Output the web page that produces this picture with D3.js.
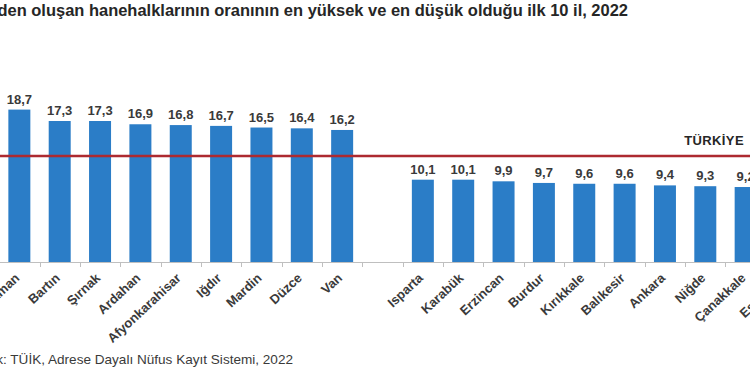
<!DOCTYPE html>
<html>
<head>
<meta charset="utf-8">
<script src="https://cdn.jsdelivr.net/npm/d3@7"></script>
<style>
  body { margin: 0; background: #fff; }
  svg { display: block; font-family: "Liberation Sans", Arial, sans-serif; }
</style>
</head>
<body>
<svg id="Vis" width="750" height="380"></svg>
<script>
/*
* DATA
*/

// the picture is a crop of a wider chart, so the first and last provinces sit outside it
const highNames = ["Adıyaman", "Bartın", "Şırnak", "Ardahan", "Afyonkarahisar", "Iğdır", "Mardin", "Düzce", "Van"];
const highValues = [18.7, 17.3, 17.3, 16.9, 16.8, 16.7, 16.5, 16.4, 16.2];

const lowNames = ["Isparta", "Karabük", "Erzincan", "Burdur", "Kırıkkale", "Balıkesir", "Ankara", "Niğde", "Çanakkale", "Eskişehir"];
const lowValues = [10.1, 10.1, 9.9, 9.7, 9.6, 9.6, 9.4, 9.3, 9.2, 9.1];

const turkiyeValue = 13.0;

const titleText = "Geniş aileden oluşan hanehalklarının oranının en yüksek ve en düşük olduğu ilk 10 il, 2022";
const sourceText = "Kaynak: TÜİK, Adrese Dayalı Nüfus Kayıt Sistemi, 2022";

/*
* SETUP
*/

const svg = d3.select("svg#Vis");

const bars = highNames.map((n, i) => ({ name: n, value: highValues[i] }))
  .concat(lowNames.map((n, i) => ({ name: n, value: lowValues[i] })));

// slot list: one hidden province on the left, a blank slot between the groups
const slots = ["_lead"].concat(highNames, ["_gap"], lowNames);

const step = 40.35;
const x = d3.scaleBand()
  .domain(slots)
  .range([-21 - step / 2, -21 - step / 2 + step * slots.length])
  .paddingInner(0.455)
  .paddingOuter(0.455 / 2);

const baseY = 262;
const y = d3.scaleLinear().domain([0, 20]).range([baseY, baseY - 163]);

/*
* Font size so that the visible tail of a text covers a given width
*/
function fitSize(tail, width, weight) {
  const probe = svg.append("text")
    .style("font-size", "20px")
    .style("font-weight", weight)
    .text(tail);
  const w = probe.node().getComputedTextLength();
  probe.remove();
  return 20 * width / w;
}

/* Title */
const titleSize = fitSize("den oluşan hanehalklarının oranının en yüksek ve en düşük olduğu ilk 10 il, 2022", 631, "bold");
svg.append("text")
  .attr("x", 628)
  .attr("y", 16)
  .attr("text-anchor", "end")
  .style("font-size", titleSize + "px")
  .style("font-weight", "bold")
  .style("fill", "#262626")
  .text(titleText);

/* Axis line and ticks */
svg.append("line")
  .attr("x1", 0).attr("x2", 750)
  .attr("y1", baseY + 0.5).attr("y2", baseY + 0.5)
  .style("stroke", "#bfbfbf")
  .style("stroke-width", 1);

svg.selectAll("line.tick")
  .data(d3.range(slots.length + 1))
  .join("line")
  .attr("class", "tick")
  .attr("x1", i => Math.round(x.range()[0] + i * x.step()) + 0.5)
  .attr("x2", i => Math.round(x.range()[0] + i * x.step()) + 0.5)
  .attr("y1", baseY)
  .attr("y2", baseY + 5)
  .style("stroke", "#bfbfbf");

/* Bars */
svg.selectAll("rect.bar")
  .data(bars)
  .join("rect")
  .attr("class", "bar")
  .attr("x", d => x(d.name))
  .attr("width", x.bandwidth())
  .attr("y", d => y(d.value))
  .attr("height", d => baseY - y(d.value))
  .style("fill", "#2b7dc7");

/* Value labels */
svg.selectAll("text.value")
  .data(bars)
  .join("text")
  .attr("class", "value")
  .attr("x", d => x(d.name) + x.bandwidth() / 2)
  .attr("y", d => y(d.value) - 6)
  .attr("text-anchor", "middle")
  .style("font-size", "13px")
  .style("font-weight", "bold")
  .style("fill", "#3a3a3a")
  .text(d => d3.format(".1f")(d.value).replace(".", ","));

/* Category labels */
svg.selectAll("text.cat")
  .data(bars)
  .join("text")
  .attr("class", "cat")
  .attr("transform", d => "translate(" + (x(d.name) + x.bandwidth() / 2 + 1) + "," + (baseY + 17) + ") rotate(-43)")
  .attr("text-anchor", "end")
  .style("font-size", "13px")
  .style("font-weight", "bold")
  .style("fill", "#3a3a3a")
  .text(d => d.name);

/* Türkiye line */
svg.append("line")
  .attr("x1", 0).attr("x2", 750)
  .attr("y1", y(turkiyeValue)).attr("y2", y(turkiyeValue))
  .style("stroke", "#ad2a30")
  .style("stroke-width", 2.5);

svg.append("text")
  .attr("x", 744)
  .attr("y", y(turkiyeValue) - 11)
  .attr("text-anchor", "end")
  .style("font-size", "13px")
  .style("font-weight", "bold")
  .style("letter-spacing", "0.4px")
  .style("fill", "#262626")
  .text("TÜRKİYE");

/* Source */
const sourceSize = fitSize("TÜİK, Adrese Dayalı Nüfus Kayıt Sistemi, 2022", 283, "normal");
svg.append("text")
  .attr("x", 293)
  .attr("y", 364)
  .attr("text-anchor", "end")
  .style("font-size", sourceSize + "px")
  .style("fill", "#3a3a3a")
  .text(sourceText);
</script>
</body>
</html>
